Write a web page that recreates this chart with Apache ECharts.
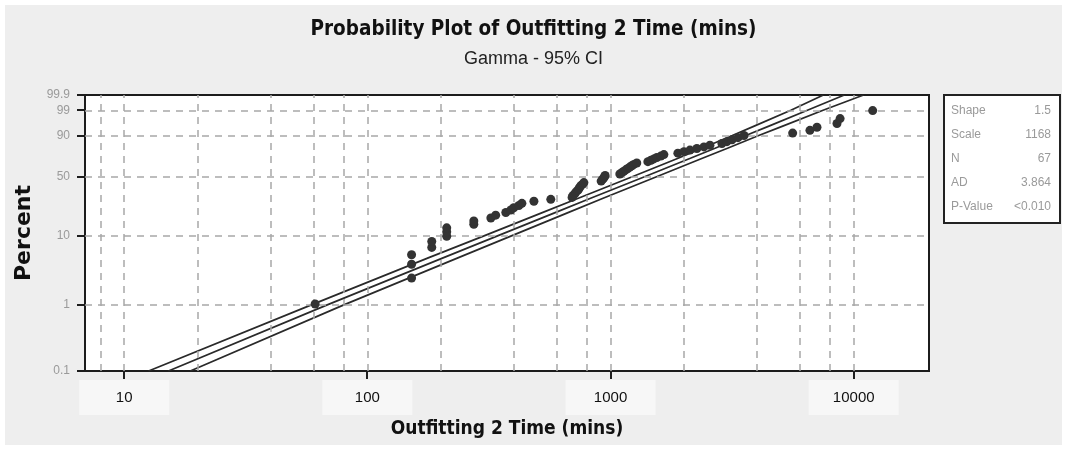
<!DOCTYPE html>
<html>
<head>
<meta charset="utf-8">
<script src="https://cdn.jsdelivr.net/npm/echarts@6/dist/echarts.min.js"></script>
<style>html,body{margin:0;padding:0;background:#fff}#c{width:1067px;height:450px}</style>
</head>
<body>
<div id="c"></div>
<script>
// ---- data ----
const timeValues = [61,
  152, 152, 152, 184, 184, 212, 212, 212, 274, 274,
  322, 337, 371, 389, 400, 420, 432, 484, 568,
  695, 700, 713, 720, 734, 741, 748, 755, 769, 777,
  915, 925, 935, 945, 950,
  1092, 1113, 1134, 1156, 1178, 1200, 1224, 1247, 1282,
  1424, 1466, 1507, 1550, 1610, 1657,
  1892, 2004, 2121, 2265, 2421, 2563,
  2871, 3011, 3160, 3343, 3539,
  5610, 6607, 7063, 8536, 8790, 11970];
const percentValues = [1.04, 2.52, 4.01, 5.49, 6.97, 8.46, 9.94, 11.42, 12.91, 14.39,
  15.88, 17.36, 18.84, 20.33, 21.81, 23.29, 24.78, 26.26, 27.74, 29.23,
  30.71, 32.20, 33.68, 35.16, 36.65, 38.13, 39.61, 41.10, 42.58, 44.07,
  45.55, 47.03, 48.52, 50.00, 51.48, 52.97, 54.45, 55.93, 57.42, 58.90,
  60.39, 61.87, 63.35, 64.84, 66.32, 67.80, 69.29, 70.77, 72.26, 73.74,
  75.22, 76.71, 78.19, 79.67, 81.16, 82.64, 84.12, 85.61, 87.09, 88.58,
  90.06, 91.54, 93.03, 94.51, 95.99, 97.48, 98.96];
const ciPercents = [0.1, 1, 5, 10, 20, 30, 50, 70, 80, 90, 95, 99, 99.9];
const fitTimes   = [15.2, 68, 206, 341, 585, 828, 1380, 2130, 2690, 3600, 4480, 6450, 9150];
const lowerTimes = [12.6, 58.5, 179, 300, 518, 737, 1228, 1896, 2381, 3168, 3898, 5515, 7503];
const upperTimes = [18.7, 79.6, 237, 389, 661, 932, 1546, 2386, 3026, 4068, 5107, 7482, 10980];
const yTickPercents = [0.1, 1, 10, 50, 90, 99, 99.9];
const yGridPercents = [1, 10, 50, 90, 99];
const xTickValues = [10, 100, 1000, 10000];
const xGridValues = [8, 10, 20, 40, 60, 80, 100, 200, 400, 600, 800, 1000, 2000, 4000, 6000, 8000, 10000];
const statLabels = ['Shape', 'Scale', 'N', 'AD', 'P-Value'];
const statValues = ['1.5', '1168', '67', '3.864', '<0.010'];
const SHAPE = 1.5;
const X_MIN = 6.9, X_MAX = 20400;

// ---- gamma probability scale ----
function lnGamma(z) {
  const g = 7, c = [0.99999999999980993, 676.5203681218851, -1259.1392167224028, 771.32342877765313,
    -176.61502916214059, 12.507343278686905, -0.13857109526572012, 9.9843695780195716e-6, 1.5056327351493116e-7];
  if (z < 0.5) return Math.log(Math.PI / Math.sin(Math.PI * z)) - lnGamma(1 - z);
  z -= 1; let x = c[0];
  for (let i = 1; i < g + 2; i++) x += c[i] / (z + i);
  const t = z + g + 0.5;
  return 0.5 * Math.log(2 * Math.PI) + (z + 0.5) * Math.log(t) - t + Math.log(x);
}
function gammaP(a, x) {
  if (x <= 0) return 0;
  let sum = 1 / a, term = 1 / a;
  for (let n = 1; n < 1000; n++) { term *= x / (a + n); sum += term; if (term < sum * 1e-15) break; }
  return sum * Math.exp(-x + a * Math.log(x) - lnGamma(a));
}
function gammaQuantile(a, p) {
  let lo = -14, hi = Math.log(80);
  for (let i = 0; i < 80; i++) { const m = (lo + hi) / 2; if (gammaP(a, Math.exp(m)) < p) lo = m; else hi = m; }
  return Math.exp((lo + hi) / 2);
}
function probPos(pct) { return Math.log10(gammaQuantile(SHAPE, pct / 100)); }

const yTickPos = yTickPercents.map(probPos);
const yMin = yTickPos[0], yMax = yTickPos[yTickPos.length - 1];
function yLabel(v) {
  let best = 0, bd = Infinity;
  yTickPos.forEach((p, i) => { const d = Math.abs(p - v); if (d < bd) { bd = d; best = i; } });
  return String(yTickPercents[best]);
}

const points = timeValues.map((t, i) => [t, probPos(percentValues[i])]);
const mkLine = arr => arr.map((t, i) => [t, probPos(ciPercents[i])]);

const FONT = "'Liberation Sans', 'DejaVu Sans', sans-serif";
const NARROW = "'Liberation Sans Narrow', 'DejaVu Sans Condensed', 'Liberation Sans', sans-serif";

const lineSeries = (name, arr) => ({
  name, type: 'line', data: mkLine(arr), showSymbol: false, symbol: 'none',
  lineStyle: { color: '#2a2a2a', width: 1.7 }, z: 3, silent: true, animation: false, clip: true
});

const chart = echarts.init(document.getElementById('c'), null, { renderer: 'canvas' });
chart.setOption({
  animation: false,
  backgroundColor: '#eeeeee',
  title: {
    text: 'Probability Plot of Outfitting 2 Time (mins)',
    subtext: 'Gamma - 95% CI',
    left: 'center', top: 14, itemGap: 10,
    textStyle: { fontFamily: NARROW, fontWeight: 'bold', fontSize: 20.5, color: '#111' },
    subtextStyle: { fontFamily: FONT, fontSize: 18, color: '#222' }
  },
  grid: { left: 85, right: 138, top: 95, bottom: 79, show: true, backgroundColor: '#ffffff',
    borderColor: '#1c1c1c', borderWidth: 2 },
  xAxis: {
    type: 'log', logBase: 10, min: X_MIN, max: X_MAX, position: 'bottom',
    axisLine: { show: false, onZero: false }, splitLine: { show: false }, axisTick: { show: false },
    axisLabel: { customValues: xTickValues, formatter: v => String(Math.round(v)), color: '#111',
      fontFamily: FONT, fontSize: 15, margin: 9, backgroundColor: '#f7f7f7', padding: [10, 0, 10, 0], width: 90, align: 'center' },
    name: 'Outfitting 2 Time (mins)', nameLocation: 'middle', nameGap: 44,
    nameTextStyle: { fontFamily: NARROW, fontWeight: 'bold', fontSize: 19, color: '#111' }
  },
  yAxis: {
    type: 'value', min: yMin, max: yMax, position: 'left',
    axisLine: { show: false, onZero: false }, splitLine: { show: false }, axisTick: { show: false },
    axisLabel: { customValues: yTickPos, formatter: yLabel, color: '#9a9a9a', fontFamily: FONT, fontSize: 12, margin: 15 },
    name: 'Percent', nameLocation: 'middle', nameGap: 43,
    nameTextStyle: { fontFamily: "'DejaVu Sans', sans-serif", fontWeight: 'bold', fontSize: 22, color: '#111' }
  },
  series: [
    {
      name: 'grid', type: 'line', data: [], z: 1, silent: true,
      markLine: {
        silent: true, symbol: ['none', 'none'], animation: false, label: { show: false },
        lineStyle: { color: '#a8a8a8', width: 1.5, type: [7, 6] },
        emphasis: { disabled: true },
        data: xGridValues.map(v => ({ xAxis: v })).concat(yGridPercents.map(p => ({ yAxis: probPos(p) })))
      }
    },
    lineSeries('lower', lowerTimes),
    lineSeries('fit', fitTimes),
    lineSeries('upper', upperTimes),
    {
      name: 'data', type: 'scatter', data: points, symbol: 'circle', symbolSize: 9, z: 5,
      itemStyle: { color: '#333333', opacity: 1 }, silent: true
    }
  ]
});

// ---- decorations: frame, axis ticks (placed through the chart's own scales), statistics box ----
const TICK = 8;
const graphics = [{
  type: 'rect', shape: { x: 0, y: 0, width: 1067, height: 450 },
  style: { fill: 'none', stroke: '#ffffff', lineWidth: 10 }, z: 0, silent: true
}];
const bottomY = chart.convertToPixel({ yAxisIndex: 0 }, yMin);
const leftX = chart.convertToPixel({ xAxisIndex: 0 }, X_MIN);
xTickValues.forEach(v => {
  const px = Math.round(chart.convertToPixel({ xAxisIndex: 0 }, v));
  graphics.push({ type: 'line', silent: true, z: 20,
    shape: { x1: px, y1: bottomY, x2: px, y2: bottomY + TICK }, style: { stroke: '#1c1c1c', lineWidth: 2 } });
});
yTickPos.forEach(v => {
  const py = Math.round(chart.convertToPixel({ yAxisIndex: 0 }, v));
  graphics.push({ type: 'line', silent: true, z: 20,
    shape: { x1: leftX - TICK, y1: py, x2: leftX, y2: py }, style: { stroke: '#1c1c1c', lineWidth: 2 } });
});
graphics.push({
  type: 'rect', shape: { x: 944, y: 95, width: 116, height: 128 },
  style: { fill: '#ffffff', stroke: '#222', lineWidth: 2 }, z: 10, silent: true
});
statLabels.forEach((lab, i) => {
  const yy = 111 + i * 23.8;
  graphics.push({ type: 'text', x: 951, y: yy, z: 11, silent: true,
    style: { text: lab, fill: '#9a9a9a', font: '12px ' + FONT, textAlign: 'left', textVerticalAlign: 'middle' } });
  graphics.push({ type: 'text', x: 1051, y: yy, z: 11, silent: true,
    style: { text: statValues[i], fill: '#9a9a9a', font: '12px ' + FONT, textAlign: 'right', textVerticalAlign: 'middle' } });
});
chart.setOption({ graphic: graphics });
</script>
</body>
</html>
